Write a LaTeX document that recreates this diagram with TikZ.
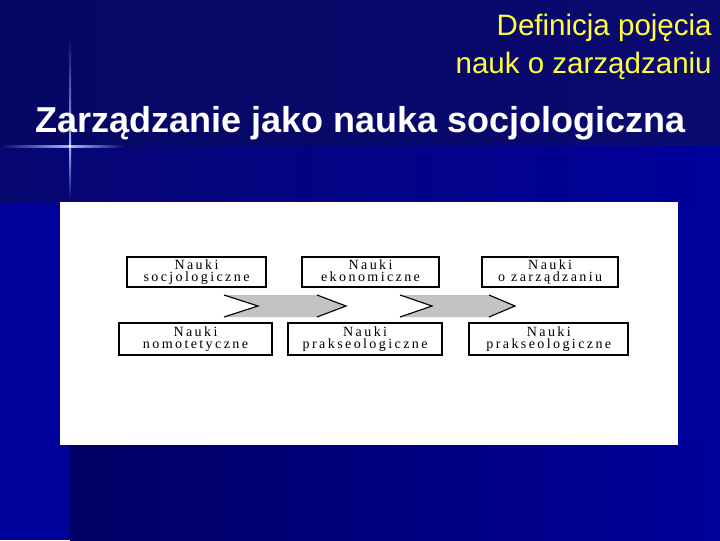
\documentclass[tikz,border=0pt]{standalone}
\usepackage{fontspec}
\setmainfont{Liberation Sans}
\newfontfamily\boxfont[LetterSpace=17]{Liberation Serif}
\usetikzlibrary{shapes,arrows,calc}
\definecolor{navytop}{RGB}{6,6,100}
\definecolor{navytopr}{RGB}{10,10,112}
\definecolor{slideblue}{RGB}{0,0,155}
\definecolor{navylow}{RGB}{0,0,100}
\definecolor{bandl}{RGB}{6,6,112}
\definecolor{flare}{RGB}{160,185,255}
\definecolor{titleyellow}{RGB}{255,255,60}
\definecolor{chevgray}{RGB}{195,195,195}
\tikzstyle{box} = [rectangle, draw, line width=1.2pt, fill=white, minimum width=3.45cm, minimum height=0.75cm, inner sep=0pt, align=center, font=\boxfont\fontsize{10}{8.8}\selectfont, execute at end node={\vphantom{g}}]
\tikzstyle{chevron} = [fill=chevgray]
\tikzstyle{chevedge} = [draw, line width=0.8pt]

\begin{document}
\begin{tikzpicture}[x=0.025cm, y=-0.025cm]
	\useasboundingbox (0,0) rectangle (720,540);
	
	% slide background
	\fill [slideblue] (0,0) rectangle (720,540);
	\shade [left color=navytop, right color=navytopr] (0,0) rectangle (720,146);
	\shade [left color=bandl, right color=slideblue] (0,146) rectangle (720,202);
	\shade [left color=navylow, right color=slideblue] (70,445) rectangle (720,540);
	
	% light flare
	\shade [top color=navytop, bottom color=flare] (69,37) rectangle (71,146);
	\shade [top color=flare, bottom color=bandl] (69,146) rectangle (71,200);
	\shade [left color=navytop, right color=flare] (0,145) rectangle (70,147);
	\shade [left color=flare, right color=bandl] (70,145) rectangle (125,147);
	\fill [white] (70,146) circle (1.5);
	
	\node [anchor=north east, align=right, inner sep=0pt, text=titleyellow, font=\fontsize{21}{27}\selectfont] (head) at (712,14) {Definicja pojęcia\\nauk o zarządzaniu};
	\node [anchor=base west, inner sep=0pt, text=white, font=\bfseries\fontsize{25.6}{30}\selectfont] (title) at (35,132) {Zarządzanie jako nauka socjologiczna};
	
	% diagram panel
	\fill [white] (60,202) rectangle (678,445);
	
	\node [box, minimum width=3.475cm] (soc) at (196.5,272) {Nauki\\socjologiczne};
	\node [box, right of=soc, node distance=4.35cm, minimum width=3.425cm] (eko) {Nauki\\ekonomiczne};
	\node [box, right of=eko, node distance=4.49cm, minimum width=3.4cm] (zarz) {Nauki\\o zarządzaniu};
	
	\node [box, below of=soc, node distance=1.675cm, xshift=-0.025cm, minimum width=3.83cm, minimum height=0.8cm] (nomo) {Nauki\\nomotetyczne};
	\node [box, right of=nomo, node distance=4.24cm, minimum width=3.85cm, minimum height=0.8cm] (prak1) {Nauki\\prakseologiczne};
	\node [box, right of=prak1, node distance=4.59cm, minimum width=3.975cm, minimum height=0.8cm] (prak2) {Nauki\\prakseologiczne};
	
	\fill [chevron] (224,295) -- (317,295) -- (346,306) -- (317,317) -- (224,317) -- (258,306) -- cycle;
	\path [chevedge] (224,295) -- (258,306) -- (224,317);
	\path [chevedge] (317,295) -- (346,306) -- (317,317);
	
	\fill [chevron] (400,295) -- (489,295) -- (515,306) -- (489,317) -- (400,317) -- (432,306) -- cycle;
	\path [chevedge] (400,295) -- (432,306) -- (400,317);
	\path [chevedge] (489,295) -- (515,306) -- (489,317);
	
\end{tikzpicture}
\end{document}
